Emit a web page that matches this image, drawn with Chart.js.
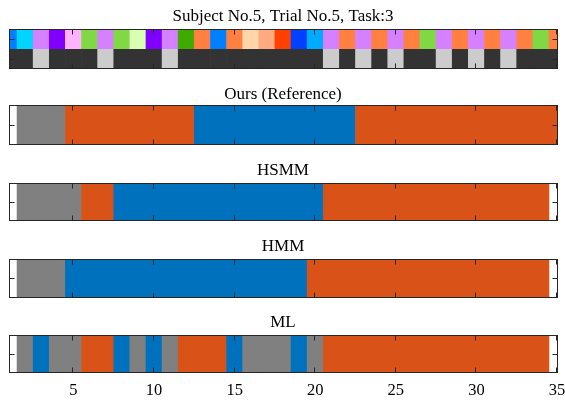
<!DOCTYPE html>
<html>
<head>
<meta charset="utf-8">
<title>Segmentation results</title>
<script src="https://cdn.jsdelivr.net/npm/chart.js@4.4.0/dist/chart.umd.min.js"></script>
<style>
  html, body { margin: 0; padding: 0; background: #fff; }
  #figure { position: relative; width: 565px; height: 401px; }
  .panel { position: absolute; left: 0; width: 565px; }
</style>
</head>
<body>
<div id="figure"></div>
<script>
// Frame axis ticks
const xTicks = [5, 10, 15, 20, 25, 30, 35];

// Action id of every frame (frames 1..35)
const frameActions = [0, 1, 2, 3, 4, 5, 2, 5, 6, 3, 2, 7, 8, 0, 8, 9, 10, 11, 12, 13,
                      2, 8, 2, 8, 2, 8, 5, 2, 8, 2, 8, 2, 8, 5, 8];
// Flag row under the actions (1 = light cell)
const frameFlags = [0, 0, 1, 0, 0, 0, 1, 0, 0, 0, 1, 0, 0, 0, 0, 0, 0, 0, 0, 0,
                    1, 0, 1, 0, 1, 0, 0, 1, 0, 1, 0, 1, 0, 0, 0];

// Segmentations: segment edges (in frames) and the state of each segment
const oursEdges = [1.5, 4.5, 12.5, 22.5, 35.5];
const oursStates = [0, 1, 2, 1];
const hsmmEdges = [1.5, 5.5, 7.5, 20.5, 34.5];
const hsmmStates = [0, 1, 2, 1];
const hmmEdges = [1.5, 4.5, 19.5, 34.5];
const hmmStates = [0, 2, 1];
const mlEdges = [1.5, 2.5, 3.5, 5.5, 7.5, 8.5, 9.5, 10.5, 11.5, 14.5, 15.5, 18.5, 19.5, 20.5, 34.5];
const mlStates = [0, 2, 0, 1, 2, 0, 2, 0, 1, 2, 0, 2, 0, 1];

// Colours
const actionColors = ['#0080ff', '#00d4ff', '#d580ff', '#8000ff', '#ffb3ff', '#80d944', '#d9ffb3',
                      '#40aa00', '#ff8040', '#ffd5aa', '#ffaa80', '#ff4000', '#0040ff', '#00aaff'];
const flagColors = ['#333333', '#cccccc'];
const stateColors = ['#808080', '#d95319', '#0072bd'];

const FONT = "'Times New Roman', 'Liberation Serif', serif";
const TITLE_SIZE = 17;
const TITLE_LH = TITLE_SIZE * 1.2;
const TICK_LEN = 5;

Chart.defaults.font.family = FONT;
Chart.defaults.color = '#000';

// box around the plot area with inward ticks, like a matlab axes
const frameAxes = {
  id: 'frameAxes',
  afterDatasetsDraw(chart) {
    const { ctx, chartArea: a, scales: { x, y } } = chart;
    const left = Math.floor(a.left) + 0.5;
    const right = Math.floor(a.right) + 0.5;
    const top = Math.floor(a.top) + 0.5;
    const bottom = Math.floor(a.bottom) + 0.5;
    ctx.save();
    ctx.strokeStyle = '#262626';
    ctx.lineWidth = 1;
    ctx.beginPath();
    xTicks.forEach(v => {
      const px = Math.round(x.getPixelForValue(v)) - 0.5;
      ctx.moveTo(px, bottom); ctx.lineTo(px, bottom - TICK_LEN);
      ctx.moveTo(px, top); ctx.lineTo(px, top + TICK_LEN);
    });
    y.getLabels().forEach((_, i) => {
      const py = Math.round(y.getPixelForValue(i)) + 0.5;
      ctx.moveTo(left, py); ctx.lineTo(left + TICK_LEN, py);
      ctx.moveTo(right, py); ctx.lineTo(right - TICK_LEN, py);
    });
    ctx.stroke();
    ctx.strokeRect(left, top, right - left, bottom - top);
    ctx.restore();
  }
};

function segmentData(edges, states) {
  return states.map((s, i) => ({ x: [edges[i], edges[i + 1]], y: 'seg' }));
}

function frameData(values, row) {
  return values.map((v, i) => ({ x: [i + 0.5, i + 1.5], y: row }));
}

function makePanel(p) {
  const div = document.createElement('div');
  div.className = 'panel';
  div.style.top = p.top + 'px';
  div.style.height = p.height + 'px';
  const canvas = document.createElement('canvas');
  div.appendChild(canvas);
  document.getElementById('figure').appendChild(div);

  const axisH = p.showLabels ? 28 : 0;
  new Chart(canvas, {
    type: 'bar',
    data: { labels: p.labels, datasets: p.datasets },
    options: {
      indexAxis: 'y',
      responsive: true,
      maintainAspectRatio: false,
      animation: false,
      events: [],
      layout: {
        padding: {
          left: 9,
          right: 8,
          top: p.titleY - p.top - TITLE_LH / 2,
          bottom: p.top + p.height - p.boxBottom - axisH
        }
      },
      plugins: {
        legend: { display: false },
        tooltip: { enabled: false },
        title: {
          display: true,
          text: p.title,
          color: '#000',
          font: { family: FONT, size: TITLE_SIZE, weight: 'normal', lineHeight: 1.2 },
          padding: { top: 0, bottom: p.boxTop - p.titleY - TITLE_LH / 2 }
        }
      },
      scales: {
        x: {
          type: 'linear',
          min: 1,
          max: 35,
          display: p.showLabels,
          grid: { display: false, drawTicks: false },
          border: { display: false },
          ticks: { font: { family: FONT, size: 16.5 }, color: '#000', padding: 8, maxRotation: 0 },
          afterBuildTicks: axis => { axis.ticks = xTicks.map(v => ({ value: v })); },
          afterFit: axis => {
            axis.height = axisH;
            axis.paddingLeft = 0;
            axis.paddingRight = 0;
          }
        },
        y: {
          type: 'category',
          display: false,
          offset: true
        }
      },
      datasets: {
        bar: {
          grouped: false,
          categoryPercentage: 1,
          barPercentage: 1,
          borderWidth: 0,
          borderSkipped: false
        }
      }
    },
    plugins: [frameAxes]
  });
}

function segmentPanel(top, height, title, edges, states, box, titleY, showLabels) {
  makePanel({
    top, height, title, titleY, showLabels,
    boxTop: box[0], boxBottom: box[1],
    labels: ['seg'],
    datasets: [{
      data: segmentData(edges, states),
      backgroundColor: states.map(s => stateColors[s])
    }]
  });
}

// ground-truth action strip
makePanel({
  top: 0, height: 76, title: 'Subject No.5, Trial No.5, Task:3', titleY: 16.5,
  boxTop: 29, boxBottom: 68.5, showLabels: false,
  labels: ['action', 'flag'],
  datasets: [
    { data: frameData(frameActions, 'action'), backgroundColor: frameActions.map(a => actionColors[a]) },
    { data: frameData(frameFlags, 'flag'), backgroundColor: frameFlags.map(f => flagColors[f]) }
  ]
});

segmentPanel(76, 76, 'Ours (Reference)', oursEdges, oursStates, [105.7, 144.3], 94.5, false);
segmentPanel(152, 76, 'HSMM', hsmmEdges, hsmmStates, [183.3, 220.5], 170.3, false);
segmentPanel(228, 76, 'HMM', hmmEdges, hmmStates, [259.3, 297], 247, false);
segmentPanel(304, 97, 'ML', mlEdges, mlStates, [335.4, 372.5], 322.4, true);
</script>
</body>
</html>
